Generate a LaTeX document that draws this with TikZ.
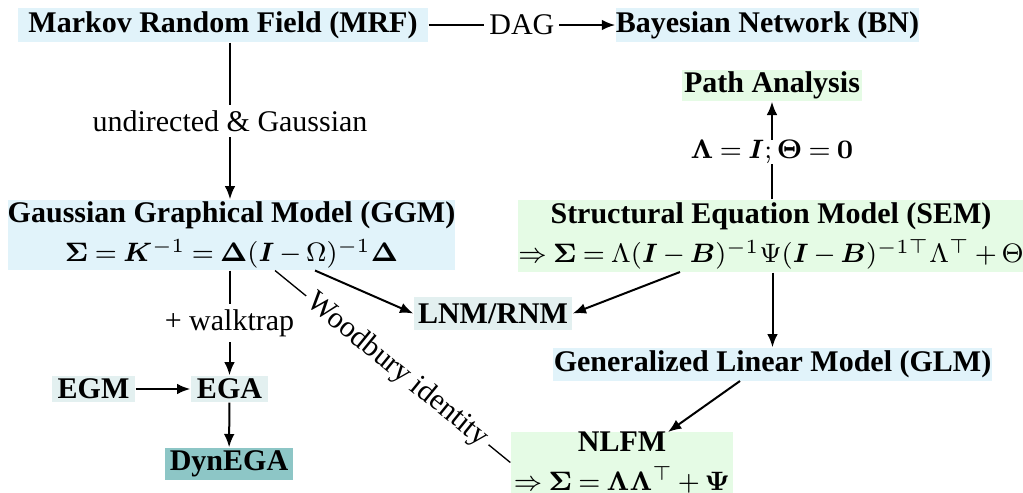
\documentclass[tikz,border=0pt]{standalone}
\usepackage{amsmath,amssymb,bm}
\usepackage{fontspec}
\setmainfont{Liberation Serif}
\usetikzlibrary{arrows.meta}

\definecolor{skyfill}{HTML}{E1F3FA}
\definecolor{mintfill}{HTML}{E5FBE5}
\definecolor{greyfill}{HTML}{E3F0F0}
\definecolor{tealfill}{HTML}{8DC6C6}

\newcommand{\eqline}[1]{{\fontsize{8.2}{10}\selectfont\thickmuskip=4mu\medmuskip=3mu $#1$}}

\tikzset{
  model/.style={inner sep=0pt, align=center, font=\fontsize{9}{11.7}\selectfont\bfseries},
  sky/.style={model, fill=skyfill},
  mint/.style={model, fill=mintfill},
  grey/.style={model, fill=greyfill},
  tealbox/.style={model, fill=tealfill},
  conn/.style={semithick, -{Latex[length=4pt,width=3.2pt]}},
  tag/.style={fill=white, inner sep=1.5pt, font=\fontsize{9}{10}\selectfont}
}

\begin{document}
\begin{tikzpicture}[x=0.3pt,y=-0.3pt]
			\useasboundingbox (0,0) rectangle (1023,493);
			
			% top row
			\node[sky, minimum width=123pt, minimum height=10.2pt] (mrf) at (223,25) {Markov Random Field (MRF)};
			\node[sky, minimum width=89.7pt, minimum height=10.2pt] (bn) at (767.5,25) {Bayesian Network (BN)};
			
			% left column
			\node[sky, minimum width=134.1pt, minimum height=21pt] (ggm) at (231.5,235)
				{Gaussian Graphical Model (GGM)\\ \eqline{\bm{\Sigma} = \bm{K}^{-1} = \bm{\Delta}(\bm{I} - \Omega)^{-1}\bm{\Delta}}};
			\node[grey, minimum width=23.1pt, minimum height=7.8pt] (ega) at (229.5,389) {EGA};
			\node[grey, minimum width=24.9pt, minimum height=7.8pt] (egm) at (93.5,389) {EGM};
			\node[tealbox, minimum width=38.4pt, minimum height=9.6pt] (dynega) at (229,464) {DynEGA};
			
			% right column
			\node[mint, minimum width=54pt, minimum height=9.3pt] (path) at (772,85.5) {Path Analysis};
			\node[model] (restr) at (772,152) {\eqline{\bm{\Lambda} = \bm{I}; \bm{\Theta} = \bm{0}}};
			\node[mint, minimum width=149.4pt, minimum height=21.6pt] (sem) at (771,236)
				{Structural Equation Model (SEM)\\ \eqline{\Rightarrow \bm{\Sigma} = \Lambda(\bm{I} - \bm{B})^{-1}\Psi(\bm{I} - \bm{B})^{-1\top}\Lambda^{\top} + \Theta}};
			\node[sky, minimum width=131.7pt, minimum height=9.9pt] (glm) at (772.5,364.5) {Generalized Linear Model (GLM)};
			\node[mint, minimum width=66.6pt, minimum height=18.3pt] (nlfm) at (622,462.5)
				{NLFM\\ \eqline{\Rightarrow \bm{\Sigma} = \bm{\Lambda}\bm{\Lambda}^{\top} + \bm{\Psi}}};
			
			% middle
			\node[grey, minimum width=47.4pt, minimum height=9.9pt] (lnm) at (493,313.5) {LNM/RNM};
			
			\coordinate (ggmA) at (275,270.5);
			\coordinate (ggmB) at (315,270.5);
			\coordinate (semA) at (680,272);
			\coordinate (glmA) at (740,381);
			\coordinate (nlfmA) at (668,432);
			
			\draw[conn] (mrf) -- node[tag]{DAG} (bn);
			\draw[conn] (mrf.south -| 230,0) -- node[tag]{undirected \& Gaussian} (ggm.north -| 230,0);
			\draw[conn] (ggm.south -| 229.5,0) -- node[tag]{+ walktrap} (ega);
			\draw[conn] (egm) -- (ega);
			\draw[conn] (ega) -- (dynega);
			\draw[conn] (ggmB) -- (lnm.west);
			\draw[conn] (semA) -- (lnm.east);
			\draw[conn] (sem.south -| glm.north) -- (glm.north);
			\draw[conn] (glmA) -- (nlfmA);
			\draw[semithick] (sem.north -| restr.south) -- (restr.south);
			\draw[conn] (restr.north) -- (path.south);
			\draw (ggmA) -- node[tag, sloped, pos=0.52]{Woodbury identity} (nlfm.west);
		\end{tikzpicture}
\end{document}
